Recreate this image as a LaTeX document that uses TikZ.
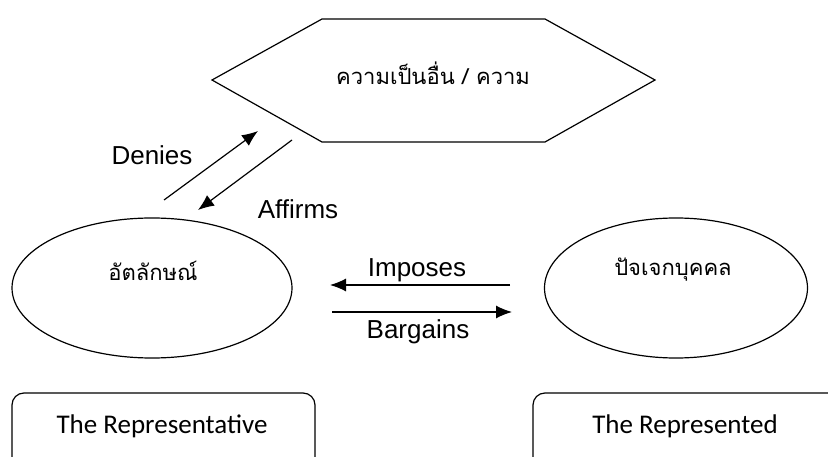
\documentclass[tikz,border=0pt]{standalone}
\usepackage{fontspec}
\setmainfont{Liberation Sans}
\newfontfamily\thaifont[Script=Thai]{Loma}
\newfontfamily\boxfont{Carlito}
\usetikzlibrary{positioning}
\usetikzlibrary{arrows.meta}
\usetikzlibrary{shapes.geometric}
\tikzset{
  thaitext/.style={font=\thaifont\fontsize{22}{26}\selectfont},
  arrlabel/.style={font=\fontsize{26}{30}\selectfont},
  boxlabel/.style={font=\boxfont\fontsize{27}{32}\selectfont},
  flow/.style={line width=1.2pt, -{Latex[length=16pt,width=13pt]}},
  oval/.style={draw, ellipse, line width=1.2pt},
}

\begin{document}
\begin{tikzpicture}[x=1pt,y=-1pt]
\clip (0,0) rectangle (828,457);
\useasboundingbox (0,0) rectangle (828,457);

% hexagon on top
\draw [line width=1.2pt] (212,80) -- (322,19) -- (545,19) -- (655,80) -- (545,142) -- (322,142) -- cycle;
\node [thaitext] (other) at (433,73) {ความเป็นอื่น / ความ};

% the two ovals
\node [oval, minimum width=280pt, minimum height=140pt] (ident) at (152,288) {};
\node [oval, minimum width=263pt, minimum height=140pt] (indiv) at (676,288) {};
\node [thaitext] (identtext) at (153,271) {อัตลักษณ์};
\node [thaitext] (indivtext) at (673,270) {ปัจเจกบุคคล};

% free ends of the arrows
\coordinate (deniesA) at (164,200);
\coordinate (deniesB) at (258,131);
\coordinate (affirmsA) at (292,140);
\coordinate (affirmsB) at (198,210);
\coordinate (imposesA) at (510,285);
\coordinate (imposesB) at (330,285);
\coordinate (bargainsA) at (332,312);
\coordinate (bargainsB) at (512,312);

\draw [flow] (deniesA) -- (deniesB);
\draw [flow] (affirmsA) -- (affirmsB);
\draw [flow] (imposesA) -- (imposesB);
\draw [flow] (bargainsA) -- (bargainsB);

\node [arrlabel] (denies) at (152,155) {Denies};
\node [arrlabel] (affirms) at (298,209) {Affirms};
\node [arrlabel] (imposes) at (417,270) {Imposes};
\node [arrlabel] (bargains) at (418,332) {Bargains};

% boxes at the bottom, cut by the page edge
\draw [line width=1.2pt, rounded corners=12pt] (12,393) rectangle (315,480);
\draw [line width=1.2pt, rounded corners=12pt] (533,393) rectangle (850,480);
\node [boxlabel] (rep) at (162,426) {The Representative};
\node [boxlabel] (repd) at (685,426) {The Represented};
\end{tikzpicture}
\end{document}
